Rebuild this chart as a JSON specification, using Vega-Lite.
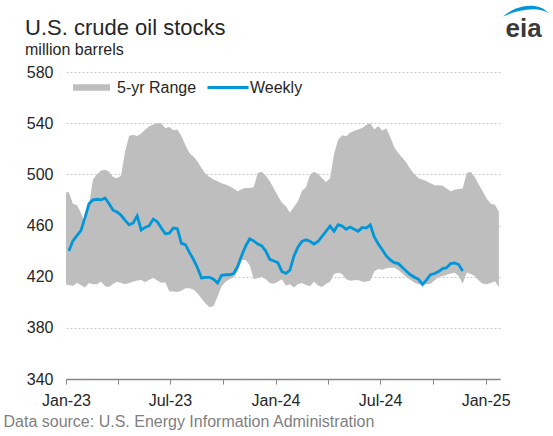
{
  "$schema": "https://vega.github.io/schema/vega-lite/v6.json",
  "width": 434,
  "height": 307,
  "autosize": {"type": "none"},
  "padding": {"left": 66, "top": 72, "right": 53, "bottom": 57},
  "config": {
    "font": "Liberation Sans",
    "view": {"stroke": null},
    "background": "white"
  },
  "title": {
    "text": "U.S. crude oil stocks",
    "subtitle": "million barrels",
    "anchor": "start",
    "frame": "group",
    "dx": -41,
    "offset": -53,
    "fontSize": 22,
    "fontWeight": "normal",
    "color": "#262626",
    "subtitleFontSize": 16,
    "subtitleColor": "#262626",
    "subtitlePadding": 2
  },
  "data": {
    "values": [
      {"date": "2022-12-30", "upper": 486, "lower": 414},
      {"date": "2023-01-06", "upper": 486, "lower": 413.5, "weekly": 440},
      {"date": "2023-01-13", "upper": 477, "lower": 412.7, "weekly": 448},
      {"date": "2023-01-20", "upper": 476, "lower": 415, "weekly": 452},
      {"date": "2023-01-27", "upper": 470, "lower": 413.5, "weekly": 456},
      {"date": "2023-02-03", "upper": 462, "lower": 411.5, "weekly": 466},
      {"date": "2023-02-10", "upper": 476, "lower": 415, "weekly": 477},
      {"date": "2023-02-17", "upper": 496, "lower": 414, "weekly": 480},
      {"date": "2023-02-24", "upper": 500, "lower": 414, "weekly": 480.5},
      {"date": "2023-03-03", "upper": 503, "lower": 416.3, "weekly": 480},
      {"date": "2023-03-10", "upper": 503.5, "lower": 412.5, "weekly": 481.5},
      {"date": "2023-03-17", "upper": 502, "lower": 412, "weekly": 477},
      {"date": "2023-03-24", "upper": 498, "lower": 414.5, "weekly": 472},
      {"date": "2023-03-31", "upper": 497, "lower": 416, "weekly": 470.5},
      {"date": "2023-04-07", "upper": 499, "lower": 415, "weekly": 468},
      {"date": "2023-04-14", "upper": 518, "lower": 414, "weekly": 464},
      {"date": "2023-04-21", "upper": 530, "lower": 415, "weekly": 460.5},
      {"date": "2023-04-28", "upper": 531, "lower": 416, "weekly": 462},
      {"date": "2023-05-05", "upper": 530, "lower": 417, "weekly": 467.5},
      {"date": "2023-05-12", "upper": 532, "lower": 417.3, "weekly": 456.5},
      {"date": "2023-05-19", "upper": 535, "lower": 415.7, "weekly": 458.5},
      {"date": "2023-05-26", "upper": 537.5, "lower": 417.5, "weekly": 459.8},
      {"date": "2023-06-02", "upper": 539, "lower": 419, "weekly": 465},
      {"date": "2023-06-09", "upper": 540, "lower": 417, "weekly": 463},
      {"date": "2023-06-16", "upper": 540, "lower": 415.3, "weekly": 458},
      {"date": "2023-06-23", "upper": 536, "lower": 415.5, "weekly": 453.5},
      {"date": "2023-06-30", "upper": 537, "lower": 408.5, "weekly": 454},
      {"date": "2023-07-07", "upper": 534.5, "lower": 408.5, "weekly": 458},
      {"date": "2023-07-14", "upper": 535, "lower": 408, "weekly": 457.5},
      {"date": "2023-07-21", "upper": 530, "lower": 409, "weekly": 446},
      {"date": "2023-07-28", "upper": 523, "lower": 411, "weekly": 445},
      {"date": "2023-08-04", "upper": 516.5, "lower": 411, "weekly": 439},
      {"date": "2023-08-11", "upper": 514, "lower": 410, "weekly": 433.4},
      {"date": "2023-08-18", "upper": 510, "lower": 407, "weekly": 427},
      {"date": "2023-08-25", "upper": 505, "lower": 403, "weekly": 419},
      {"date": "2023-09-01", "upper": 500.5, "lower": 399, "weekly": 419.5},
      {"date": "2023-09-08", "upper": 498, "lower": 396, "weekly": 419.5},
      {"date": "2023-09-15", "upper": 496, "lower": 397, "weekly": 418},
      {"date": "2023-09-22", "upper": 494.5, "lower": 404.5, "weekly": 415},
      {"date": "2023-09-29", "upper": 493, "lower": 412.5, "weekly": 421},
      {"date": "2023-10-06", "upper": 492, "lower": 416, "weekly": 421.5},
      {"date": "2023-10-13", "upper": 490.7, "lower": 418, "weekly": 421.5},
      {"date": "2023-10-20", "upper": 489, "lower": 419.5, "weekly": 422.5},
      {"date": "2023-10-27", "upper": 486.5, "lower": 424, "weekly": 428},
      {"date": "2023-11-03", "upper": 488.5, "lower": 433, "weekly": 436.5},
      {"date": "2023-11-10", "upper": 489.3, "lower": 433, "weekly": 444},
      {"date": "2023-11-17", "upper": 489.3, "lower": 429, "weekly": 449.5},
      {"date": "2023-11-24", "upper": 490, "lower": 418, "weekly": 448},
      {"date": "2023-12-01", "upper": 501, "lower": 419, "weekly": 445.5},
      {"date": "2023-12-08", "upper": 502, "lower": 420, "weekly": 444},
      {"date": "2023-12-15", "upper": 499, "lower": 418, "weekly": 440},
      {"date": "2023-12-22", "upper": 494.5, "lower": 415, "weekly": 433.5},
      {"date": "2023-12-29", "upper": 489, "lower": 414.5, "weekly": 432.3},
      {"date": "2024-01-05", "upper": 483, "lower": 416, "weekly": 431},
      {"date": "2024-01-12", "upper": 478, "lower": 418, "weekly": 424},
      {"date": "2024-01-19", "upper": 475, "lower": 413, "weekly": 422.5},
      {"date": "2024-01-26", "upper": 470, "lower": 414, "weekly": 425},
      {"date": "2024-02-02", "upper": 474.5, "lower": 411.5, "weekly": 436},
      {"date": "2024-02-09", "upper": 479, "lower": 414, "weekly": 443},
      {"date": "2024-02-16", "upper": 487, "lower": 415, "weekly": 447.5},
      {"date": "2024-02-23", "upper": 490, "lower": 413.5, "weekly": 448.8},
      {"date": "2024-03-01", "upper": 499.7, "lower": 412.6, "weekly": 447.7},
      {"date": "2024-03-08", "upper": 502, "lower": 416, "weekly": 445.5},
      {"date": "2024-03-15", "upper": 500.5, "lower": 413, "weekly": 447.5},
      {"date": "2024-03-22", "upper": 497, "lower": 412, "weekly": 451.5},
      {"date": "2024-03-29", "upper": 494, "lower": 414.5, "weekly": 455.5},
      {"date": "2024-04-05", "upper": 497, "lower": 416, "weekly": 459.5},
      {"date": "2024-04-12", "upper": 516, "lower": 422, "weekly": 455.5},
      {"date": "2024-04-19", "upper": 527, "lower": 423, "weekly": 460.7},
      {"date": "2024-04-26", "upper": 530.5, "lower": 422, "weekly": 459.6},
      {"date": "2024-05-03", "upper": 529.7, "lower": 418, "weekly": 457},
      {"date": "2024-05-10", "upper": 532.5, "lower": 416.8, "weekly": 458.8},
      {"date": "2024-05-17", "upper": 534, "lower": 417.2, "weekly": 457},
      {"date": "2024-05-24", "upper": 535, "lower": 417.3, "weekly": 455.5},
      {"date": "2024-05-31", "upper": 536.3, "lower": 416, "weekly": 458.5},
      {"date": "2024-06-07", "upper": 538.5, "lower": 416, "weekly": 458},
      {"date": "2024-06-14", "upper": 540, "lower": 417, "weekly": 460.5},
      {"date": "2024-06-21", "upper": 535, "lower": 424, "weekly": 451},
      {"date": "2024-06-28", "upper": 537.8, "lower": 426, "weekly": 445.5},
      {"date": "2024-07-05", "upper": 534, "lower": 425.5, "weekly": 441},
      {"date": "2024-07-12", "upper": 536, "lower": 426.5, "weekly": 436.2},
      {"date": "2024-07-19", "upper": 529, "lower": 427, "weekly": 433},
      {"date": "2024-07-26", "upper": 521, "lower": 427, "weekly": 431},
      {"date": "2024-08-02", "upper": 516.5, "lower": 425, "weekly": 430.2},
      {"date": "2024-08-09", "upper": 513, "lower": 422.5, "weekly": 427.2},
      {"date": "2024-08-16", "upper": 509, "lower": 419.5, "weekly": 424.2},
      {"date": "2024-08-23", "upper": 504, "lower": 417.5, "weekly": 421.5},
      {"date": "2024-08-30", "upper": 500, "lower": 415.3, "weekly": 419.5},
      {"date": "2024-09-06", "upper": 497, "lower": 414, "weekly": 418},
      {"date": "2024-09-13", "upper": 496, "lower": 413.9, "weekly": 413.8},
      {"date": "2024-09-20", "upper": 494.5, "lower": 414, "weekly": 417.5},
      {"date": "2024-09-27", "upper": 493, "lower": 414.5, "weekly": 421.5},
      {"date": "2024-10-04", "upper": 491.5, "lower": 417, "weekly": 422.5},
      {"date": "2024-10-11", "upper": 491.5, "lower": 419.8, "weekly": 424},
      {"date": "2024-10-18", "upper": 491, "lower": 420.4, "weekly": 426.3},
      {"date": "2024-10-25", "upper": 489, "lower": 421.5, "weekly": 427},
      {"date": "2024-11-01", "upper": 486.7, "lower": 422.5, "weekly": 430.2},
      {"date": "2024-11-08", "upper": 488, "lower": 423, "weekly": 430.8},
      {"date": "2024-11-15", "upper": 488.5, "lower": 420.5, "weekly": 429.5},
      {"date": "2024-11-22", "upper": 489, "lower": 414.5, "weekly": 424.5},
      {"date": "2024-11-29", "upper": 501, "lower": 423},
      {"date": "2024-12-06", "upper": 502, "lower": 422},
      {"date": "2024-12-13", "upper": 498, "lower": 420.5},
      {"date": "2024-12-20", "upper": 492, "lower": 417},
      {"date": "2024-12-27", "upper": 486.5, "lower": 414.5},
      {"date": "2025-01-03", "upper": 481, "lower": 414},
      {"date": "2025-01-10", "upper": 477, "lower": 415},
      {"date": "2025-01-17", "upper": 476.3, "lower": 416.5},
      {"date": "2025-01-24", "upper": 471, "lower": 412}
    ]
  },
  "layer": [
    {
      "mark": {"type": "area", "clip": true, "opacity": 1},
      "encoding": {
        "x": {
          "field": "date",
          "type": "temporal",
          "scale": {
            "type": "utc",
            "domain": [
              {"year": 2023, "month": 1, "date": 1, "utc": true},
              {"year": 2025, "month": 1, "date": 26, "utc": true}
            ]
          },
          "axis": {
            "values": [
              {"year": 2023, "month": 1, "date": 1, "utc": true},
              {"year": 2023, "month": 4, "date": 1, "utc": true},
              {"year": 2023, "month": 7, "date": 1, "utc": true},
              {"year": 2023, "month": 10, "date": 1, "utc": true},
              {"year": 2024, "month": 1, "date": 1, "utc": true},
              {"year": 2024, "month": 4, "date": 1, "utc": true},
              {"year": 2024, "month": 7, "date": 1, "utc": true},
              {"year": 2024, "month": 10, "date": 1, "utc": true},
              {"year": 2025, "month": 1, "date": 1, "utc": true}
            ],
            "labelExpr": "utcmonth(datum.value) % 6 === 0 ? utcFormat(datum.value, '%b-%y') : ''",
            "labelOverlap": false,
            "labelFlush": false,
            "labelFontSize": 16,
            "labelColor": "#262626",
            "labelPadding": 8,
            "tickSize": 5,
            "tickColor": "#868686",
            "domainColor": "#868686",
            "domainWidth": 1.5,
            "grid": false,
            "title": "Data source: U.S. Energy Information Administration",
            "titleX": -63,
            "titleY": 47,
            "titleAlign": "left",
            "titleAnchor": null,
            "titleBaseline": "alphabetic",
            "titleFontSize": 16,
            "titleFontWeight": "normal",
            "titleColor": "#7f7f7f"
          }
        },
        "y": {
          "field": "upper",
          "type": "quantitative",
          "scale": {"domain": [340, 580], "nice": false, "zero": false},
          "axis": {
            "values": [340, 380, 420, 460, 500, 540, 580],
            "title": null,
            "domain": false,
            "ticks": false,
            "labelPadding": 13,
            "labelFontSize": 16,
            "labelColor": "#262626",
            "gridColor": "#c8c8c8",
            "gridDash": [2, 2]
          }
        },
        "y2": {"field": "lower"},
        "fill": {
          "datum": "5-yr Range",
          "type": "nominal",
          "scale": {"range": ["#bebebe"]},
          "legend": {
            "orient": "none",
            "legendX": 7,
            "legendY": -3,
            "title": null,
            "padding": 0,
            "symbolType": "M-1,-0.18L1,-0.18L1,0.18L-1,0.18Z",
            "symbolSize": 1369,
            "symbolStrokeWidth": 0,
            "labelFontSize": 16,
            "labelColor": "#262626",
            "labelOffset": 7
          }
        }
      }
    },
    {
      "mark": {"type": "line", "strokeWidth": 2.8},
      "encoding": {
        "x": {"field": "date", "type": "temporal"},
        "y": {"field": "weekly", "type": "quantitative", "axis": {"title": null}},
        "stroke": {
          "datum": "Weekly",
          "type": "nominal",
          "scale": {"range": ["#0096d7"]},
          "legend": {
            "orient": "none",
            "legendX": 140,
            "legendY": -6.5,
            "title": null,
            "padding": 0,
            "symbolType": "stroke",
            "symbolSize": 1681,
            "symbolStrokeWidth": 3,
            "labelFontSize": 16,
            "labelColor": "#262626",
            "labelOffset": 0
          }
        }
      }
    },
    {
      "data": {"values": [{}]},
      "mark": {"type": "text", "text": "eia", "fontSize": 26, "fontWeight": "bold", "color": "#3a3a3a", "align": "center", "baseline": "alphabetic"},
      "encoding": {
        "x": {"datum": {"year": 2025, "month": 3, "date": 8, "utc": true}, "type": "temporal"},
        "y": {"datum": 607.6, "type": "quantitative"}
      }
    },
    {
      "data": {"values": [{}]},
      "mark": {"type": "point", "shape": "M-1,0.26 C-0.5,-0.2 0.5,-0.45 1,0.12 C0.5,-0.22 -0.4,-0.02 -1,0.26 Z", "filled": true, "size": 2116, "color": "#0096d7", "opacity": 1, "strokeWidth": 0},
      "encoding": {
        "x": {"datum": {"year": 2025, "month": 3, "date": 12, "utc": true}, "type": "temporal"},
        "y": {"datum": 628, "type": "quantitative"}
      }
    }
  ]
}
